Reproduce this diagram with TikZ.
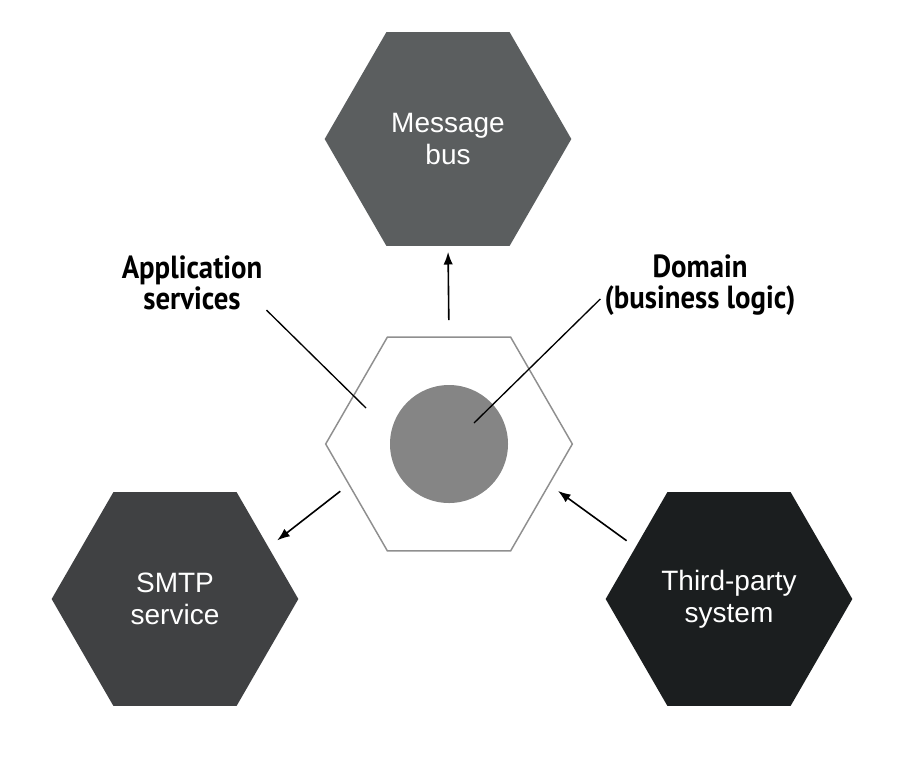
\documentclass[tikz,border=0pt]{standalone}
\usepackage{fontspec}
\setmainfont{Liberation Sans}
\newfontfamily\calloutfont{PT Sans}[FakeStretch=0.9]
\usetikzlibrary{shapes.geometric,arrows.meta}
\definecolor{busgray}{HTML}{5B5E5F}
\definecolor{smtpgray}{HTML}{404143}
\definecolor{thirdgray}{HTML}{1B1E1F}
\definecolor{coregray}{HTML}{858585}
\definecolor{edgegray}{HTML}{8F8F8F}
\begin{document}
\begin{tikzpicture}[>={Latex[length=9.5pt,width=7pt]}, x=0.75pt, y=-0.75pt,
    hexa/.style={regular polygon, regular polygon sides=6, minimum size=185pt,
        inner sep=0pt, outer sep=0pt, align=center, text=white,
        font=\fontsize{21}{24}\selectfont},
    callout/.style={align=center, inner sep=3pt,
        font=\calloutfont\bfseries\fontsize{24}{23.25}\selectfont},
    feed/.style={->, line width=1.2pt, shorten <=8.3pt, shorten >=8.3pt},
    pointer/.style={line width=1pt}]
    \useasboundingbox (0,0) rectangle (899,765);
    %outer hexagons
    \node[hexa, fill=busgray] (bus) at (448,139) {Message\\bus};
    \node[hexa, fill=smtpgray] (smtp) at (175,599) {SMTP\\service};
    \node[hexa, fill=thirdgray] (third) at (729,599) {Third-party\\system};
    %core
    \node[hexa, draw=edgegray, line width=1.1pt, fill=white] (core) at (449,444) {};
    \node[circle, fill=coregray, minimum size=88.5pt, inner sep=0pt] (domain) at (449,444) {};
    %labels
    \node[callout] (applbl) at (192,283) {Application\\services};
    \node[callout] (domlbl) at (700,285) {Domain\\(business logic)};
    \coordinate (appspot) at (366,408);
    \coordinate (domspot) at (474,423);
    \draw[pointer] (applbl.-20) -- (appspot);
    \draw[pointer] (domlbl.188) -- (domspot);
    %arrows
    \draw[feed, shorten <=12.75pt, shorten >=4.5pt] (core.north) -- (bus.south);
    \draw[feed] (core.202) -- (smtp.29);
    \draw[feed] (third.151) -- (core.338);
\end{tikzpicture}
\end{document}
